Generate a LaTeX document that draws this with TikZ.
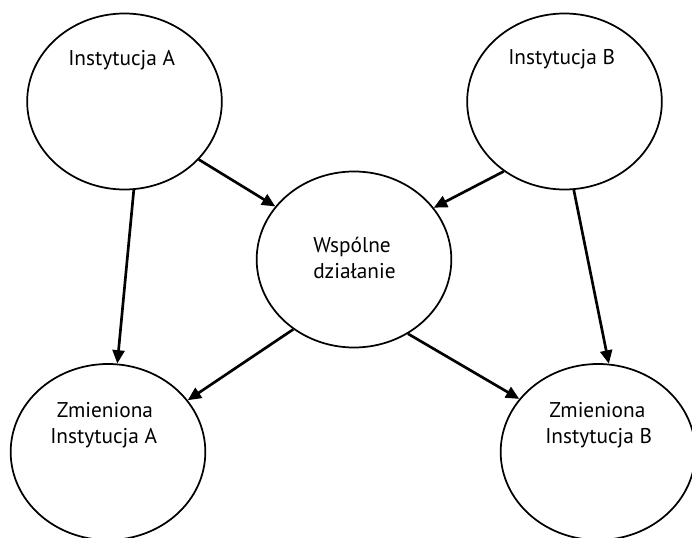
\documentclass[tikz,border=0pt]{standalone}
\usepackage{fontspec}
\setsansfont{PT Sans}
\usetikzlibrary{shapes.geometric,arrows.meta}

\begin{document}
\begin{tikzpicture}[
    x=0.75pt, y=-0.75pt,
    inst/.style={draw, ellipse, line width=1.3pt, minimum width=146pt, minimum height=132pt, inner sep=0pt},
    lbl/.style={font=\sffamily\fontsize{16}{19.5}\selectfont, align=left, anchor=base west, inner sep=0pt},
    arrow/.style={line width=2pt, -{Triangle[length=10pt,width=9pt]}}
]
    \useasboundingbox (0,0) rectangle (692,538);
    \clip (0,0) rectangle (692,538);

    \node (ia) [inst] at (124.5,101.5) {};
    \node (ib) [inst] at (564.5,101.5) {};
    \node (wd) [inst] at (354,259.5) {};
    \node (za) [inst] at (108,452) {};
    \node (zb) [inst] at (598,452) {};

    % labels: base west = baseline of the last line
    \node (tia) [lbl] at (68,66) {Instytucja A};
    \node (tib) [lbl] at (508,65) {Instytucja B};
    \node (twd) [lbl] at (313,278) {Wspólne\\działanie};
    \node (tza) [lbl] at (50,443) {\hspace{5pt}Zmieniona\\Instytucja A};
    \node (tzb) [lbl] at (545,443) {\hspace{3pt}Zmieniona\\Instytucja B};

    \draw [arrow] (ia.-38.5) -- (wd.146.4);
    \draw [arrow] (ib.-131) -- (wd.33.6);
    \draw [arrow] (ia.-84) -- (za.84);
    \draw [arrow] (ib.-84.5) -- (zb.83.5);
    \draw [arrow] (wd.-131.3) -- (za.33.4);
    \draw [arrow] (wd.-54.6) -- (zb.146);
\end{tikzpicture}
\end{document}
